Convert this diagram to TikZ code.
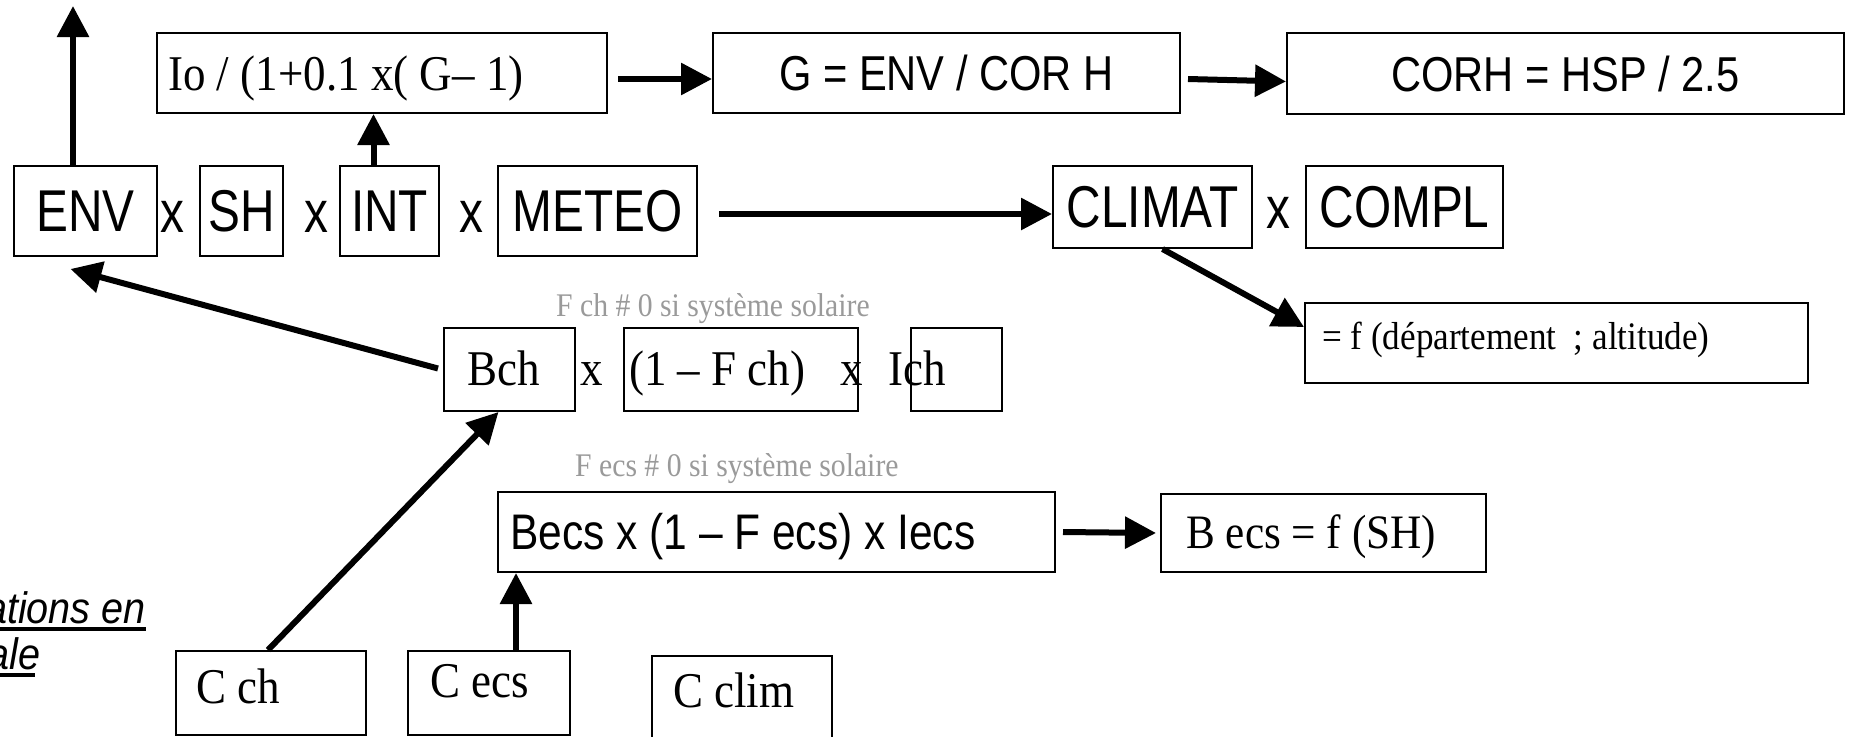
\documentclass[tikz,border=0pt]{standalone}
\usepackage{fontspec}
\setmainfont{Liberation Serif}[FakeStretch=0.9]
\newfontfamily\sansn{Liberation Sans}[FakeStretch=0.81]
\newfontfamily\sansm{Liberation Sans}[FakeStretch=0.85]
\newfontfamily\sansl{Liberation Sans}[FakeStretch=0.9]
\usetikzlibrary{arrows.meta}
\definecolor{greytxt}{HTML}{9A9A9A}
\begin{document}
\begin{tikzpicture}[x=1pt,y=-1pt,
  box/.style={draw, line width=2pt, inner sep=0pt, rectangle},
  txt/.style={inner sep=0pt},
  arr/.style={line width=6pt, -{Triangle[length=31pt,width=31pt]}},
  big/.style={font=\sansn\fontsize{59}{64}\selectfont},
  mid/.style={font=\sansm\fontsize{49}{54}\selectfont},
  ser/.style={font=\fontsize{50}{56}\selectfont},
  sml/.style={font=\fontsize{39}{44}\selectfont},
  grey/.style={font=\fontsize{33}{36}\selectfont, text=greytxt},
  lbl/.style={font=\sansl\itshape\fontsize{44}{50}\selectfont, inner sep=0pt},
]
\path[use as bounding box, fill=white] (0,0) rectangle (1852,736);

% top row
\node[box, minimum width=450pt, minimum height=80pt] (io) at (382,73) {};
\node[txt, ser, anchor=base west] (iotxt) at (168,90) {Io / (1+0.1 x( G– 1)};
\node[box, mid, minimum width=467pt, minimum height=80pt] (g) at (946.5,73) {G = ENV / COR H};
\node[box, mid, minimum width=557pt, minimum height=81pt] (corh) at (1565.5,73.5) {CORH = HSP / 2.5};

% second row
\node[box, big, minimum width=143pt, minimum height=90pt] (env) at (85.5,211) {ENV};
\node[box, big, minimum width=83pt, minimum height=90pt] (sh) at (241.5,211) {SH};
\node[box, big, minimum width=99pt, minimum height=90pt] (int) at (389.5,211) {INT};
\node[box, big, minimum width=199pt, minimum height=90pt] (meteo) at (597.5,211) {METEO};
\node[box, big, minimum width=199pt, minimum height=82pt] (climat) at (1152.5,207) {CLIMAT};
\node[box, big, minimum width=197pt, minimum height=82pt] (compl) at (1404.5,207) {COMPL};
\node[txt, big, anchor=base] (x1) at (172,232) {x};
\node[txt, big, anchor=base] (x2) at (316,232) {x};
\node[txt, big, anchor=base] (x3) at (471,232) {x};
\node[txt, big, anchor=base] (x4) at (1278,228) {x};

% departement box
\node[box, minimum width=503pt, minimum height=80pt] (fdep) at (1556.5,343) {};
\node[txt, sml, anchor=base west] (fdeptxt) at (1322,349) {= f (département~ ; altitude)};

% Bch row
\node[txt, grey, anchor=base west] (fchnote) at (556,316) {F ch \# 0 si système solaire};
\node[box, minimum width=131pt, minimum height=83pt] (bch) at (509.5,369.5) {};
\node[box, minimum width=234pt, minimum height=83pt] (fch) at (741,369.5) {};
\node[box, minimum width=91pt, minimum height=83pt] (ich) at (956.5,369.5) {};
\node[txt, ser, anchor=base west] (bchtxt) at (467,385) {Bch};
\node[txt, ser, anchor=base] (x5) at (592,385) {x};
\node[txt, ser, anchor=base west] (fchtxt) at (629,385) {(1 – F ch)};
\node[txt, ser, anchor=base] (x6) at (852,385) {x};
\node[txt, ser, anchor=base west] (ichtxt) at (888,385) {Ich};

% Becs row
\node[txt, grey, anchor=base west] (fecsnote) at (575,476) {F ecs \# 0 si système solaire};
\node[box, minimum width=557pt, minimum height=80pt] (becs) at (776.5,532) {};
\node[txt, font=\sansm\fontsize{50}{54}\selectfont, anchor=base west] (becstxt) at (510,549) {Becs x (1 – F ecs) x Iecs};
\node[box, minimum width=325pt, minimum height=78pt] (becsf) at (1323.5,533) {};
\node[txt, font=\fontsize{48}{54}\selectfont, anchor=base west] (becsftxt) at (1186,548) {B ecs = f (SH)};

% bottom row
\node[box, minimum width=190pt, minimum height=84pt] (cch) at (271,693) {};
\node[txt, ser, anchor=base west] (cchtxt) at (196,703) {C ch};
\node[box, minimum width=162pt, minimum height=84pt] (cecs) at (489,693) {};
\node[txt, ser, anchor=base west] (cecstxt) at (430,697) {C ecs};
\node[box, minimum width=180pt, minimum height=84pt] (cclim) at (742,698) {};
\node[txt, ser, anchor=base west] (cclimtxt) at (673,707) {C clim};

% left underlined label
\node[lbl, anchor=base east] (lab1) at (146,623) {ations en};
\node[lbl, anchor=base east] (lab2) at (41,669) {ale};
\draw[line width=4pt] ([yshift=-6pt]lab1.base west) -- ([yshift=-6pt]lab1.base east);
\draw[line width=4pt] ([yshift=-6pt]lab2.base west) -- ([yshift=-6pt,xshift=-6pt]lab2.base east);

% connectors
\coordinate (envtop) at (73,6);
\draw[arr] (env.north -| envtop) -- (envtop);
\draw[arr] ([xshift=-16pt]int.north) -- ([xshift=-16pt]int.north |- io.south);
\draw[arr] ([xshift=10pt,yshift=-6pt]io.east) -- ([yshift=-6pt]g.west);
\draw[arr] ([xshift=7pt,yshift=-6pt]g.east) -- ([yshift=-8pt]corh.west);
\draw[arr] ([xshift=21pt,yshift=-3pt]meteo.east) -- ([yshift=-7pt]climat.west);
\draw[arr] ([xshift=10pt]climat.south) -- ([yshift=16pt]fdep.west);
\draw[arr] ([xshift=-5pt,yshift=1pt]bch.west) -- ([xshift=-15pt,yshift=-12pt]env.south);
\draw[arr] ([xshift=-3pt]cch.north) -- ([xshift=-11pt]bch.south);
\draw[arr] ([xshift=27pt]cecs.north) -- ([xshift=27pt]cecs.north |- becs.south);
\draw[arr] ([xshift=7pt]becs.east) -- ([xshift=-4pt]becsf.west);
\end{tikzpicture}
\end{document}
